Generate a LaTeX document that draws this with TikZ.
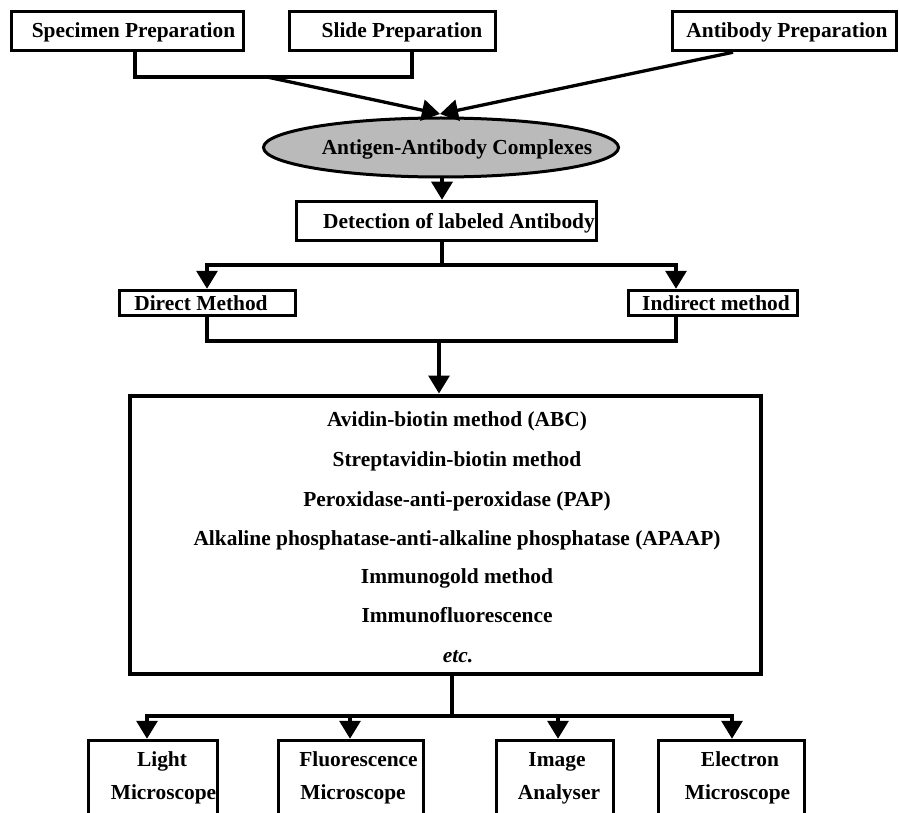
\documentclass[tikz,border=0pt]{standalone}
\usepackage{fontspec}
\setmainfont{Liberation Serif}
\usetikzlibrary{arrows.meta,shapes.geometric}
\newcommand\myfs{\fontsize{21.4}{25}\selectfont\bfseries}
\begin{document}
\begin{tikzpicture}[x=1pt,y=-1pt,
  box/.style={draw,line width=3.5pt,rectangle,inner sep=0pt},
  txt/.style={font=\myfs,inner sep=0pt,text height=16.5pt,text depth=2.5pt},
  ln/.style={line width=3.3pt},
  arr/.style={line width=3.3pt,-{Triangle[width=21pt,length=18pt]}},
  cmplx/.style={draw,ellipse,line width=3pt,fill=black!27,inner sep=0pt}]
\useasboundingbox (0,0) rectangle (899,813);
\clip (0,0) rectangle (899,813);
\fill[white] (0,0) rectangle (899,813);

% top boxes
\node[box,minimum width=232pt,minimum height=39pt] (spec) at (127.5,31) {};
\node[txt] (spect) at (133.5,31) {Specimen Preparation};
\node[box,minimum width=206pt,minimum height=39pt] (slide) at (392.5,31) {};
\node[txt] (slidet) at (402,31) {Slide Preparation};
\node[box,minimum width=224pt,minimum height=39pt] (anti) at (784.5,31) {};
\node[txt] (antit) at (787,31) {Antibody Preparation};

% complexes
\node[cmplx,minimum width=355pt,minimum height=59pt] (cx) at (441,147.5) {};
\node[txt] (cxt) at (457,148) {Antigen-Antibody Complexes};

% detection
\node[box,minimum width=300pt,minimum height=39pt] (det) at (446.5,221) {};
\node[txt] (dett) at (459,222) {Detection of labeled Antibody};

% methods
\node[box,minimum width=176pt,minimum height=25pt] (dir) at (207.5,303) {};
\node[txt] (dirt) at (201,303) {Direct Method};
\node[box,minimum width=169pt,minimum height=25pt] (ind) at (713,303) {};
\node[txt] (indt) at (716,303) {Indirect method};

% big box
\node[box,line width=4pt,minimum width=631pt,minimum height=278pt] (big) at (445,534.5) {};
\node[txt] (m1) at (457,419) {Avidin-biotin method (ABC)};
\node[txt] (m2) at (457,459) {Streptavidin-biotin method};
\node[txt] (m3) at (457,499) {Peroxidase-anti-peroxidase (PAP)};
\node[txt] (m4) at (457,538) {Alkaline phosphatase-anti-alkaline phosphatase (APAAP)};
\node[txt] (m5) at (457,576) {Immunogold method};
\node[txt] (m6) at (457,615) {Immunofluorescence};
\node[txt] (m7) at (458,655) {\textit{etc.}};

% bottom boxes
\node[box,minimum width=129pt,minimum height=110pt] (lm) at (153,795.5) {};
\node[txt] (lm1) at (162,759) {Light};
\node[txt] (lm2) at (163.5,792) {Microscope};
\node[box,minimum width=145pt,minimum height=110pt] (fm) at (351,795.5) {};
\node[txt] (fm1) at (358.5,759) {Fluorescence};
\node[txt] (fm2) at (353,792) {Microscope};
\node[box,minimum width=117pt,minimum height=110pt] (ia) at (555,795.5) {};
\node[txt] (ia1) at (557,759) {Image};
\node[txt] (ia2) at (559,792) {Analyser};
\node[box,minimum width=146pt,minimum height=110pt] (em) at (731.5,795.5) {};
\node[txt] (em1) at (740,759) {Electron};
\node[txt] (em2) at (737.5,792) {Microscope};

% connectors top
\coordinate (s1) at (135,77);
\coordinate (s2) at (412,77);
\coordinate (s3) at (267,77);
\coordinate (tip) at (440,114);
\coordinate (a1) at (733,52);
\draw[ln] (spec.south -| s1) |- (s2) -- (s2 |- slide.south);
\draw[arr] (s3) -- (tip);
\draw[arr] (anti.south -| a1) -- (tip);

% complexes -> detection
\coordinate (c1) at (442,0);
\draw[arr] (cx.south -| c1) -- (det.north -| c1);

% detection -> methods
\coordinate (j1) at (442,265);
\coordinate (xL) at (207,0);
\coordinate (xR) at (676,0);
\draw[ln] (det.south -| j1) -- (j1);
\draw[arr] (j1) -| (dir.north -| xL);
\draw[arr] (j1) -| (ind.north -| xR);

% methods -> big box
\coordinate (j2) at (439,341);
\draw[ln] (dir.south -| xL) |- (j2);
\draw[ln] (ind.south -| xR) |- (j2);
\draw[arr] (j2) -- (j2 |- big.north);

% big box -> instruments
\coordinate (j3) at (452,716);
\coordinate (b1) at (147,0);
\coordinate (b2) at (350,0);
\coordinate (b3) at (558,0);
\coordinate (b4) at (732,0);
\draw[ln] (big.south -| j3) -- (j3);
\draw[arr] (j3) -| (lm.north -| b1);
\draw[arr] (j3) -| (fm.north -| b2);
\draw[arr] (j3) -| (ia.north -| b3);
\draw[arr] (j3) -| (em.north -| b4);
\end{tikzpicture}
\end{document}
